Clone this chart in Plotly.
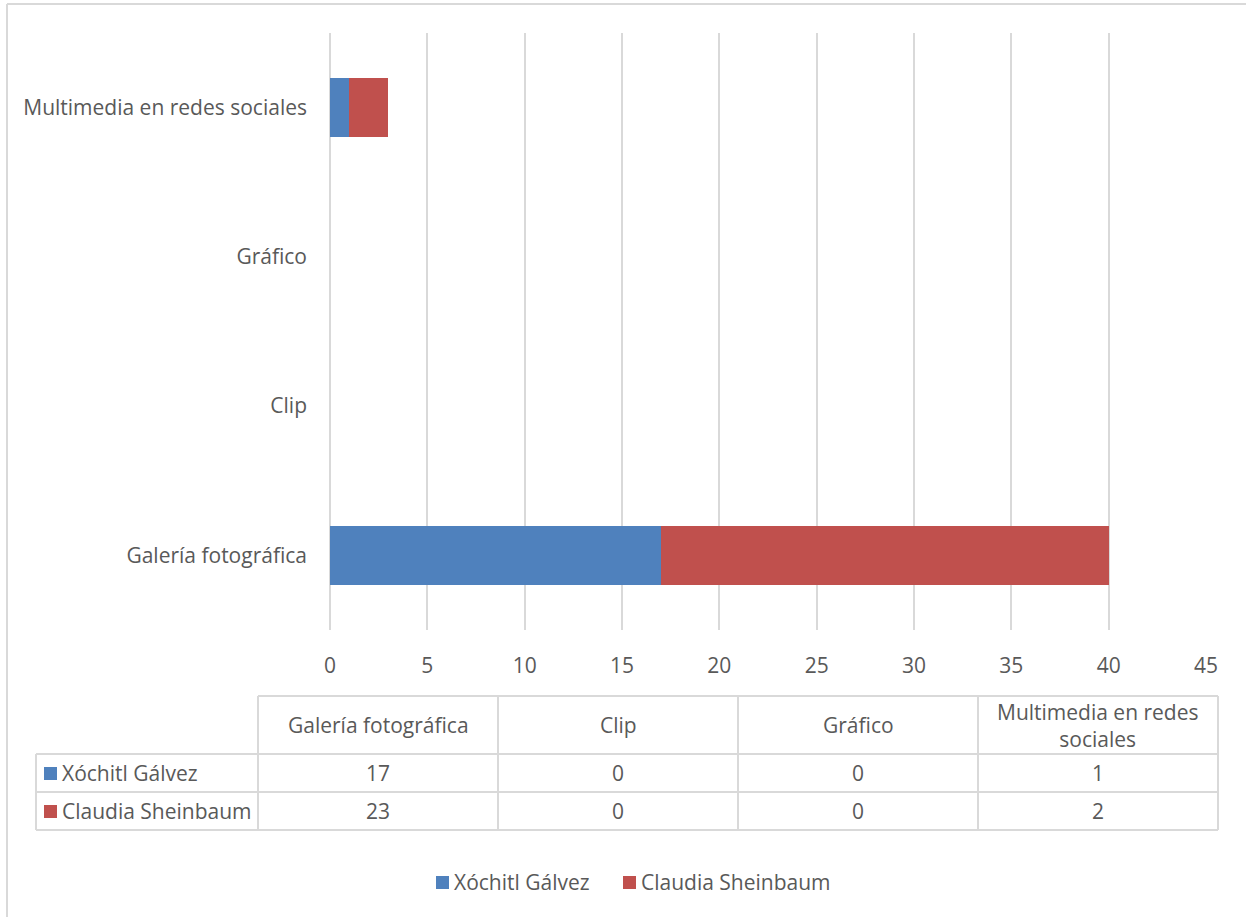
import textwrap
import plotly.graph_objects as go

# Content types (bottom to top on the category axis)
categories = ["Galería fotográfica", "Clip", "Gráfico", "Multimedia en redes sociales"]
series_names = ["Xóchitl Gálvez", "Claudia Sheinbaum"]
xochitl = [17, 0, 0, 1]
claudia = [23, 0, 0, 2]
series_values = [xochitl, claudia]
series_colors = ["#4F81BD", "#C0504D"]
x_ticks = [0, 5, 10, 15, 20, 25, 30, 35, 40, 45]

FONT = "'Open Sans', sans-serif"
TEXT = "#595959"
GRID = "#D9D9D9"
FS = 21

W, H = 1246, 917
L, R, T, B = 330, 1206, 33, 630
PW, PH = R - L, B - T


def px(xp):
    return (xp - L) / PW


def py(yp):
    return (B - yp) / PH


fig = go.Figure()
for name, vals, col in zip(series_names, series_values, series_colors):
    fig.add_trace(go.Bar(
        y=categories, x=vals, name=name, orientation="h",
        marker=dict(color=col, line=dict(width=0)),
        showlegend=False,
    ))

shapes = []
annotations = []


def hline(x0, x1, y):
    shapes.append(dict(type="line", xref="paper", yref="paper",
                       x0=px(x0), x1=px(x1), y0=py(y), y1=py(y),
                       line=dict(color=GRID, width=2)))


def vline(x, y0, y1):
    shapes.append(dict(type="line", xref="paper", yref="paper",
                       x0=px(x), x1=px(x), y0=py(y0), y1=py(y1),
                       line=dict(color=GRID, width=2)))


def text(x, y, s, anchor="center"):
    annotations.append(dict(xref="paper", yref="paper", x=px(x), y=py(y),
                            text=s, showarrow=False, xanchor=anchor,
                            yanchor="middle", align="center",
                            font=dict(family=FONT, size=FS, color=TEXT)))


def swatch(x, yc, col):
    shapes.append(dict(type="rect", xref="paper", yref="paper",
                       x0=px(x), x1=px(x + 13), y0=py(yc - 6), y1=py(yc + 7),
                       fillcolor=col, line=dict(width=0)))


# Chart frame (left and top edges)
vline(7, 4, 930)
hline(7, 1260, 4)

# Data table below the axis
label_x0, col_x0, col_w = 36, 258, 240
row_y = [696, 754, 792, 830]
ncol = len(categories)
table_x1 = col_x0 + ncol * col_w

hline(col_x0, table_x1, row_y[0])
for y in row_y[1:]:
    hline(label_x0, table_x1, y)
vline(label_x0, row_y[1], row_y[3])
for i in range(ncol + 1):
    vline(col_x0 + i * col_w, row_y[0], row_y[3])

for i, cat in enumerate(categories):
    cx = col_x0 + col_w * (i + 0.5)
    text(cx, (row_y[0] + row_y[1]) / 2, "<br>".join(textwrap.wrap(cat, 20)))
    for r, vals in enumerate(series_values):
        text(cx, (row_y[r + 1] + row_y[r + 2]) / 2, str(vals[i]))

for r, (name, col) in enumerate(zip(series_names, series_colors)):
    yc = (row_y[r + 1] + row_y[r + 2]) / 2
    swatch(44, yc, col)
    text(60, yc, name, anchor="left")

# Legend row under the table
legend_y = 882
for x0, name, col in zip([436, 623], series_names, series_colors):
    swatch(x0, legend_y, col)
    text(x0 + 16, legend_y, name, anchor="left")

fig.update_layout(
    width=W, height=H,
    margin=dict(l=L, r=W - R, t=T, b=H - B, autoexpand=False),
    paper_bgcolor="white", plot_bgcolor="white",
    barmode="stack", bargap=0.6,
    font=dict(family=FONT, size=FS, color=TEXT),
    xaxis=dict(range=[0, 45], tickvals=x_ticks, showgrid=True, gridcolor=GRID,
               gridwidth=2, zeroline=True, zerolinecolor=GRID, zerolinewidth=2,
               showline=False, ticks="", ticklabelstandoff=21,
               tickfont=dict(size=FS, color=TEXT)),
    yaxis=dict(categoryorder="array", categoryarray=categories,
               range=[-0.5, 3.5], showgrid=False, showline=False, ticks="",
               ticklabelstandoff=22, tickfont=dict(size=FS, color=TEXT)),
    showlegend=False,
    shapes=shapes, annotations=annotations,
)

fig.write_html("out.html")
